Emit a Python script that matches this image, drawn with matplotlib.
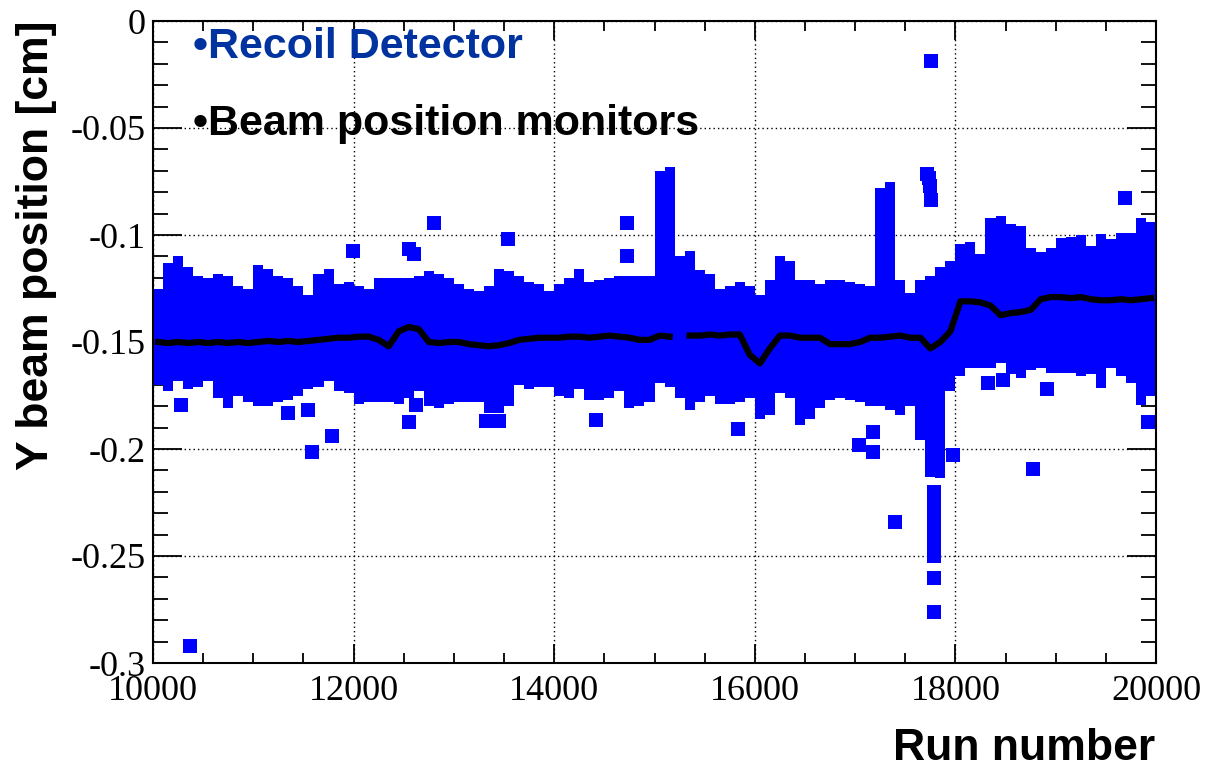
import numpy as np
import matplotlib
matplotlib.use("Agg")
import matplotlib.pyplot as plt
from matplotlib.ticker import MultipleLocator

# run bins of 100 runs each, 10000 .. 20000
bin_start = np.arange(10000, 20000, 100)

# upper / lower edge of the recoil detector band in each bin [cm]
band_top = [
    -0.125, -0.113, -0.110, -0.115, -0.119, -0.120, -0.118, -0.119, -0.124, -0.125,
    -0.114, -0.116, -0.119, -0.120, -0.124, -0.128, -0.118, -0.116, -0.123, -0.122,
    -0.124, -0.125, -0.120, -0.120, -0.120, -0.120, -0.119, -0.117, -0.118, -0.120,
    -0.123, -0.125, -0.126, -0.124, -0.116, -0.117, -0.119, -0.122, -0.123, -0.126,
    -0.123, -0.120, -0.116, -0.122, -0.121, -0.120, -0.119, -0.119, -0.119, -0.119,
    -0.070, -0.068, -0.110, -0.1075, -0.1164, -0.118, -0.125, -0.124, -0.122, -0.124,
    -0.128, -0.121, -0.110, -0.112, -0.121, -0.121, -0.123, -0.121, -0.121, -0.122,
    -0.123, -0.124, -0.078, -0.075, -0.121, -0.127, -0.121, -0.119, -0.115, -0.112,
    -0.104, -0.1035, -0.109, -0.092, -0.091, -0.095, -0.096, -0.106, -0.108, -0.106,
    -0.1015, -0.101, -0.100, -0.105, -0.0997, -0.102, -0.099, -0.099, -0.092, -0.094,
]
band_bottom = [
    -0.170, -0.173, -0.168, -0.172, -0.171, -0.168, -0.176, -0.181, -0.175, -0.178,
    -0.180, -0.180, -0.178, -0.177, -0.175, -0.172, -0.171, -0.168, -0.173, -0.174,
    -0.179, -0.178, -0.178, -0.178, -0.179, -0.176, -0.173, -0.180, -0.181, -0.179,
    -0.178, -0.178, -0.178, -0.183, -0.183, -0.180, -0.170, -0.172, -0.171, -0.171,
    -0.175, -0.176, -0.172, -0.177, -0.177, -0.176, -0.173, -0.181, -0.180, -0.178,
    -0.169, -0.171, -0.176, -0.182, -0.178, -0.175, -0.179, -0.179, -0.178, -0.176,
    -0.186, -0.184, -0.174, -0.176, -0.189, -0.186, -0.181, -0.177, -0.176, -0.177,
    -0.178, -0.180, -0.180, -0.182, -0.184, -0.180, -0.196, -0.213, -0.2135, -0.173,
    -0.166, -0.162, -0.162, -0.162, -0.160, -0.165, -0.167, -0.163, -0.162, -0.1645,
    -0.1645, -0.1645, -0.166, -0.165, -0.1716, -0.162, -0.166, -0.169, -0.1795, -0.175,
]

# isolated recoil detector runs away from the band
outlier_run = [
    10370, 10280, 11350, 11550, 11780, 11590, 11990, 12550, 12600, 12800,
    13540, 14730, 14730, 12550, 12625, 13320, 13450, 14420, 15830, 17180,
    17040, 17180, 17400, 17760, 17720, 17740, 17750, 17760, 18330, 18470,
    18910, 19925, 17980, 18770, 19695,
    17790, 17790, 17790, 17790, 17790, 17790, 17790, 17790,
]
outlier_y = [
    -0.292, -0.1795, -0.183, -0.182, -0.194, -0.2015, -0.1075, -0.1065, -0.109, -0.0945,
    -0.102, -0.0945, -0.110, -0.1875, -0.1795, -0.187, -0.187, -0.1865, -0.1905, -0.192,
    -0.198, -0.2015, -0.234, -0.0187, -0.0715, -0.0735, -0.077, -0.0835, -0.169, -0.1678,
    -0.172, -0.1875, -0.203, -0.2095, -0.0827,
    -0.220, -0.226, -0.232, -0.238, -0.244, -0.250, -0.2603, -0.276,
]

# beam position monitor average per bin [cm]
bpm_y = [
    -0.150, -0.1505, -0.150, -0.1505, -0.150, -0.1505, -0.150, -0.1505, -0.150, -0.1505,
    -0.150, -0.1495, -0.150, -0.1495, -0.150, -0.1495, -0.149, -0.1485, -0.148, -0.148,
    -0.1475, -0.1475, -0.149, -0.152, -0.145, -0.143, -0.144, -0.150, -0.1505, -0.150,
    -0.150, -0.151, -0.1515, -0.152, -0.1515, -0.1505, -0.149, -0.1485, -0.148, -0.148,
    -0.148, -0.1475, -0.1475, -0.148, -0.1475, -0.147, -0.1475, -0.148, -0.149, -0.149,
    -0.147, -0.1475, np.nan, -0.147, -0.147, -0.1465, -0.147, -0.1465, -0.1465, -0.156,
    -0.160, -0.153, -0.147, -0.147, -0.148, -0.148, -0.148, -0.151, -0.151, -0.151,
    -0.150, -0.148, -0.148, -0.1475, -0.147, -0.148, -0.148, -0.153, -0.150, -0.145,
    -0.131, -0.131, -0.1315, -0.133, -0.1375, -0.1365, -0.136, -0.135, -0.130, -0.129,
    -0.129, -0.1295, -0.129, -0.130, -0.1305, -0.1305, -0.130, -0.1305, -0.130, -0.1295,
]

blue = "#0000ff"

fig = plt.figure(figsize=(12.06, 7.67), dpi=100)
ax = fig.add_axes([153 / 1206, 1 - 663 / 767, 1003 / 1206, 642 / 767])

# band as one stepped polygon so neighbouring bins leave no seams
edges = np.append(bin_start, 20000)
top = np.append(band_top, band_top[-1])
bot = np.append(band_bottom, band_bottom[-1])
ax.fill_between(edges, bot, top, step="post", color=blue, lw=0, zorder=2)
ax.scatter(outlier_run, outlier_y, marker="s", s=90, color=blue,
           linewidths=0, zorder=2, clip_on=False)
ax.plot(bin_start + 50, bpm_y, color="black", lw=4.5, zorder=3)

ax.set_xlim(10000, 20000)
ax.set_ylim(-0.3, 0.0)
ax.xaxis.set_major_locator(MultipleLocator(2000))
ax.xaxis.set_minor_locator(MultipleLocator(500))
ax.yaxis.set_minor_locator(MultipleLocator(0.01))
ax.set_yticks([0, -0.05, -0.1, -0.15, -0.2, -0.25, -0.3])
ax.set_yticklabels(["0", "-0.05", "-0.1", "-0.15", "-0.2", "-0.25", "-0.3"])

ax.grid(True, which="major", color="black", linestyle=(0, (1, 2.2)), lw=1.0)
ax.set_axisbelow(True)
for s in ax.spines.values():
    s.set_linewidth(1.5)

ax.tick_params(which="both", direction="in", top=True, right=True, width=1.3,
               labelsize=26, labelfontfamily="Liberation Serif")
ax.tick_params(axis="x", which="major", length=14, pad=9)
ax.tick_params(axis="x", which="minor", length=7)
ax.tick_params(axis="y", which="major", length=21, pad=5)
ax.tick_params(axis="y", which="minor", length=10.5)

# axis titles
fig.text(1155 / 1206, 1 - 760 / 767, "Run number", ha="right", va="baseline",
         fontsize=32, fontweight="bold", family="Liberation Sans")
fig.text(16 / 1206, 1 - 20 / 767, "Y beam position [cm]", rotation=90,
         ha="left", va="top", fontsize=32, fontweight="bold",
         family="Liberation Sans")

# series labels
fig.text(193 / 1206, 1 - 58 / 767, "\u2022Recoil Detector",
         ha="left", va="baseline", fontsize=31, fontweight="bold",
         family="Liberation Sans", color="#0033a0", zorder=5)
fig.text(193 / 1206, 1 - 135 / 767, "\u2022Beam position monitors",
         ha="left", va="baseline", fontsize=31,
         fontweight="bold", family="Liberation Sans", color="black", zorder=5)

fig.savefig("out.png", dpi=100)
